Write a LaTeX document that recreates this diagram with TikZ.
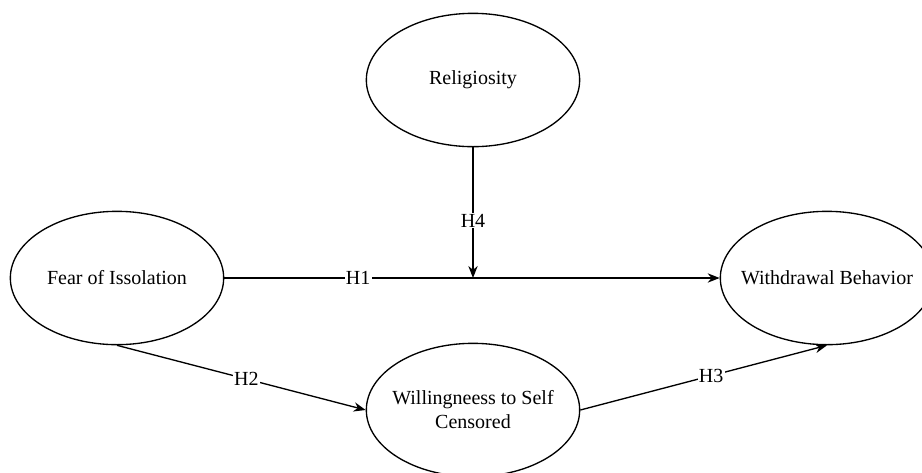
\documentclass[tikz,border=0pt]{standalone}
\usepackage{fontspec}
\setmainfont{Liberation Serif}
\usetikzlibrary{shapes.geometric,arrows.meta}
\tikzset{
    latent-var/.style = {draw, ellipse, line width=1pt, inner sep=0pt, minimum width=160pt, minimum height=100pt},
    hyp-path/.style = {line width=1pt, -{Stealth[length=9pt,width=7pt]}},
    hyp-label/.style = {fill=white, inner sep=1pt},
}
\begin{document}
\begin{tikzpicture}[x=0.75pt, y=-0.75pt, font=\fontsize{15}{18}\selectfont]
\useasboundingbox (0,0) rectangle (922,472);
\clip (0,0) rectangle (922,472);
\node[latent-var, label={center:Religiosity}] (relig) at (473,80) {};
\node[latent-var, label={center:Fear of Issolation}] (fear) at (117,278) {};
\node[latent-var, label={center:Withdrawal Behavior}] (withdraw) at (827,278) {};
\node[latent-var, label={[align=center]center:Willingneess to Self\\Censored}] (willing) at (473,410) {};
\coordinate (mod) at (relig.south |- fear.east);
\draw[hyp-path] (fear.east) -- node[hyp-label, pos=0.27] {H1} (withdraw.west);
\draw[hyp-path] (relig.south) -- node[hyp-label, pos=0.56] {H4} (mod);
\draw[hyp-path] (fear.south) -- node[hyp-label, pos=0.52] {H2} (willing.west);
\draw[hyp-path] (willing.east) -- node[hyp-label, pos=0.53] {H3} (withdraw.south);
\end{tikzpicture}
\end{document}
